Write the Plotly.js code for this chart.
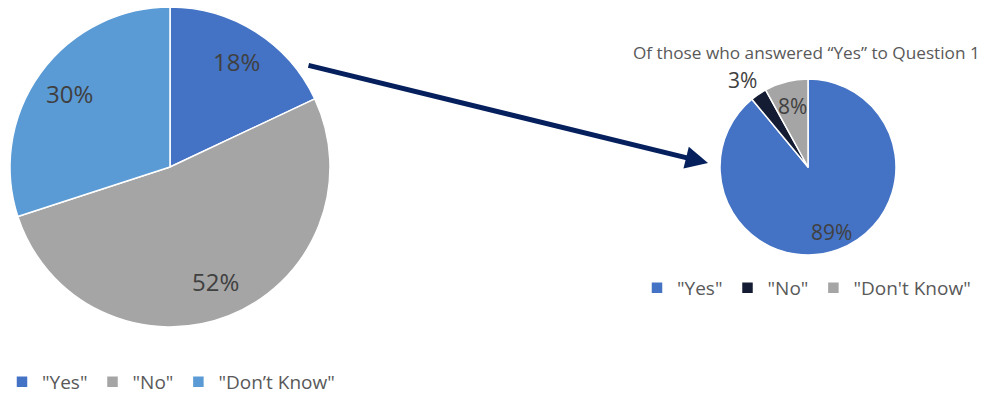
<!DOCTYPE html>
<html>
<head>
<meta charset="utf-8">
<script src="https://cdn.plot.ly/plotly-3.0.1.min.js"></script>
<style>html,body{margin:0;padding:0;background:#fff;}#chart{width:984px;height:398px;}</style>
</head>
<body>
<div id="chart"></div>
<script>
// ---- data ----
const leftLabels = ['"Yes"', '"No"', '"Don\u2019t Know"'];
const leftValues = [18, 52, 30];
const rightLabels = ['"Yes"', '"No"', '"Don\'t Know"'];
const rightValues = [89, 3, 8];
const rightTitle = 'Of those who answered \u201cYes\u201d to Question 1';

// ---- styles / geometry ----
const W = 984, H = 398;
const leftColors = ['#4472C4', '#A5A5A5', '#5B9BD5'];
const rightColors = ['#4472C4', '#141C33', '#A5A5A5'];
const leftPie = {cx: 170, cy: 167, r: 160};
const rightPie = {cx: 808, cy: 167, r: 88};
const leftLabelR = [0.78, 0.77, 0.78];
const rightLabelR = [0.78, 1.2, 0.72];
const rightLabelDX = [0, -6, 0];
const font = 'Open Sans, Noto Sans, sans-serif';

function domainOf(p) {
  return {x: [(p.cx - p.r) / W, (p.cx + p.r) / W], y: [1 - (p.cy + p.r) / H, 1 - (p.cy - p.r) / H]};
}
function pctLabels(values, p, rf, size, dx) {
  const total = values.reduce((a, b) => a + b, 0);
  let cum = 0;
  return values.map((v, i) => {
    const mid = (cum + v / 2) / total * 2 * Math.PI;
    cum += v;
    const px = p.cx + rf[i] * p.r * Math.sin(mid) + (dx ? dx[i] : 0);
    const py = p.cy - rf[i] * p.r * Math.cos(mid);
    return {x: px / W, y: 1 - py / H, xref: 'paper', yref: 'paper', showarrow: false,
      text: Math.round(v / total * 100) + '%', font: {family: font, size: size, color: '#404040'},
      xanchor: 'center', yanchor: 'middle'};
  });
}

const traces = [
  {type: 'pie', labels: leftLabels, values: leftValues, sort: false, direction: 'clockwise', rotation: 0,
   marker: {colors: leftColors, line: {color: '#ffffff', width: 1.5}}, textinfo: 'none', hoverinfo: 'none',
   domain: domainOf(leftPie), legend: 'legend', legendgroup: 'L'},
  {type: 'pie', labels: rightLabels, values: rightValues, sort: false, direction: 'clockwise', rotation: 0,
   marker: {colors: rightColors, line: {color: '#ffffff', width: 1.5}}, textinfo: 'none', hoverinfo: 'none',
   domain: domainOf(rightPie), legend: 'legend2', legendgroup: 'R'}
];

const annotations = [
  ...pctLabels(leftValues, leftPie, leftLabelR, 24),
  ...pctLabels(rightValues, rightPie, rightLabelR, 21, rightLabelDX),
  {x: 806 / W, y: 1 - 52 / H, xref: 'paper', yref: 'paper', showarrow: false, text: rightTitle,
   font: {family: font, size: 17.2, color: '#595959'}, xanchor: 'center', yanchor: 'middle'},
  {x: 708 / W, y: 1 - 163 / H, xref: 'paper', yref: 'paper', axref: 'pixel', ayref: 'pixel',
   ax: 307 - 708, ay: 65 - 163, showarrow: true, arrowhead: 2, arrowsize: 0.9, arrowwidth: 5,
   arrowcolor: '#06205E', text: ''}
];

const layout = {
  width: W, height: H,
  margin: {l: 0, r: 0, t: 0, b: 0, autoexpand: false},
  paper_bgcolor: '#ffffff',
  showlegend: true,
  legend: {orientation: 'h', x: 2 / W, y: -3 / H, xanchor: 'left', yanchor: 'bottom',
    font: {family: font, size: 19, color: '#595959'}, bgcolor: 'rgba(0,0,0,0)', itemclick: false, traceorder: 'normal'},
  legend2: {orientation: 'h', x: 637 / W, y: 1 - 288 / H, xanchor: 'left', yanchor: 'middle',
    font: {family: font, size: 19, color: '#595959'}, bgcolor: 'rgba(0,0,0,0)', itemclick: false, traceorder: 'normal'},
  annotations: annotations
};

Plotly.newPlot('chart', traces, layout, {staticPlot: true, displayModeBar: false});
</script>
</body>
</html>
